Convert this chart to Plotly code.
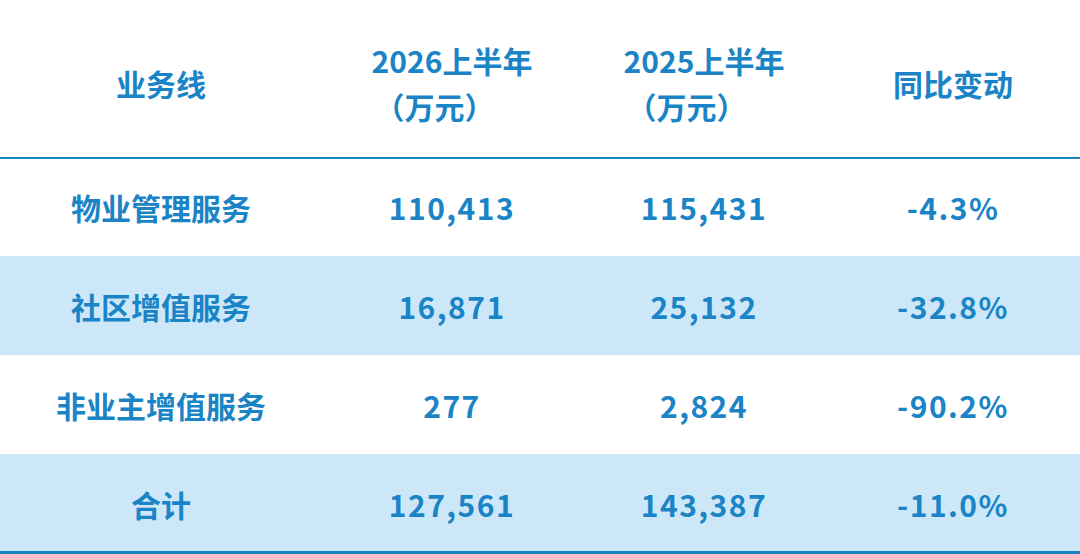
import plotly.graph_objects as go

# table content
headers = [["业务线"], ["2026上半年", "（万元）"], ["2025上半年", "（万元）"], ["同比变动"]]
business_lines = ["物业管理服务", "社区增值服务", "非业主增值服务", "合计"]
h1_2026 = [110413, 16871, 277, 127561]
h1_2025 = [115431, 25132, 2824, 143387]
yoy_change = [-4.3, -32.8, -90.2, -11.0]

BLUE = "#1A84C6"
STRIPE = "#CCE8F8"
FONT = "Noto Sans CJK SC"
SIZE = 30
HEAD_BASE = 6     # small base font in the header, each <br> is a small step down
CELL_BASE = 22    # body: one leading line pushes the text to the middle of the row
PAD = "\u00a0"    # leading lines must not be empty or they get dropped

row_fill = ["white" if i % 2 == 0 else STRIPE for i in range(len(business_lines))]

col_2026 = [f"{v:,}" for v in h1_2026]
col_2025 = [f"{v:,}" for v in h1_2025]
col_yoy = [f"{v:.1f}%" for v in yoy_change]


def big(s, spacing=0):
    return f"<span style='font-size:{SIZE}px;letter-spacing:{spacing}px'><b>{s}</b></span>"


def cell(s, spacing=0):
    return PAD + "<br>" + big(s, spacing)


def head(lines):
    top = f"<span style='font-size:9px'>{PAD}</span>"
    if len(lines) == 1:
        return top + "<br>" * 10 + big(lines[0])
    # table lines are left aligned inside the block, indent the shorter unit line
    indent = "<span style='font-size:18px'>\u3000</span>"
    return top + "<br>" * 7 + big(lines[0]) + "<br>" * 6 + indent + big(lines[1])


fig = go.Figure()
fig.add_trace(go.Table(
    columnwidth=[322, 260, 244, 254],
    header=dict(values=[head(h) for h in headers], height=157,
                fill_color="white", line_width=0,
                align="center",
                font=dict(family=FONT, size=HEAD_BASE, color=BLUE)),
    cells=dict(values=[[cell(s) for s in business_lines],
                       [cell(s, 1.5) for s in col_2026],
                       [cell(s, 1.5) for s in col_2025],
                       [cell(s, 1.5) for s in col_yoy]],
               height=99,
               fill_color=[row_fill] * 4, line_width=0,
               align="center",
               font=dict(family=FONT, size=CELL_BASE, color=BLUE)),
    domain=dict(x=[0, 1], y=[0, 1]),
))

# rule under the header and at the bottom of the table
for y, w in [(1 - 158 / 554, 2), (1 - 552.5 / 554, 3)]:
    fig.add_shape(type="line", xref="paper", yref="paper", x0=0, x1=1, y0=y, y1=y,
                  line=dict(color=BLUE, width=w))

fig.update_layout(width=1080, height=554, margin=dict(l=0, r=0, t=0, b=0),
                  paper_bgcolor="white")
fig.write_html("out.html", config={"displayModeBar": False},
               post_script="document.body.style.margin='0';")
